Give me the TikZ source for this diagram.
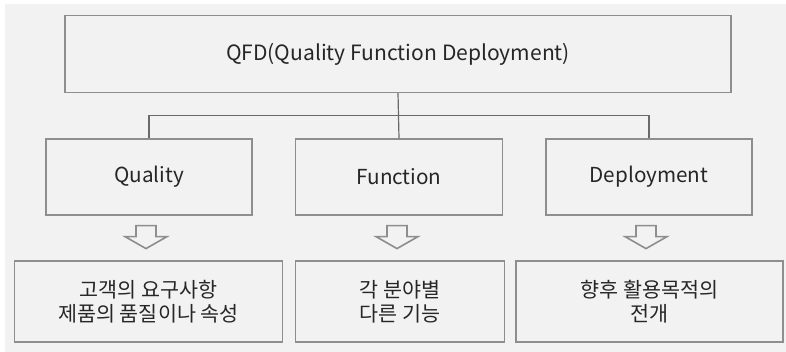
\documentclass[tikz,border=0pt]{standalone}
\usepackage{fontspec}
\setmainfont{Noto Sans CJK KR}
\usepackage{tikz}
\usetikzlibrary{positioning}
\definecolor{bggray}{HTML}{F2F2F2}
\definecolor{boxgray}{HTML}{8E8E8E}
\definecolor{linegray}{HTML}{6A6A6A}
\definecolor{txtgray}{HTML}{262626}
\tikzset{
	box/.style={draw=boxgray, line width=0.9pt, inner sep=0pt, align=center, text=txtgray, font=\fontsize{15.5}{18}\selectfont},
	link/.style={draw=linegray, line width=0.9pt},
	downarrow/.pic={
		\draw[boxgray, line width=1.2pt, line join=miter] (-10,0) -- (10,0) -- (10,11) -- (21,11) -- (0,23) -- (-21,11) -- (-10,11) -- cycle;
	}
}
\begin{document}
\begin{tikzpicture}[x=0.75pt,y=-0.75pt]
					\useasboundingbox (0,0) rectangle (786,352);
					\fill[white] (0,0) rectangle (786,352);
					\fill[bggray] (5,4) rectangle (786,352);
					
					\node[box, font=\fontsize{15.8}{19}\selectfont, minimum width=666*0.75pt, minimum height=77*0.75pt] (qfd) at (398,54) {QFD(Quality Function Deployment)};
					
					\node[box, minimum width=206*0.75pt, minimum height=76*0.75pt] (quality) at (149,177) {Quality};
					\node[box, minimum width=207*0.75pt, minimum height=76*0.75pt] (function) at (399,177) {Function};
					\node[box, minimum width=206*0.75pt, minimum height=76*0.75pt] (deployment) at (649,177) {Deployment};
					
					\node[box, minimum width=268*0.75pt, minimum height=81*0.75pt] (customer) at (148.5,301.5) {고객의 요구사항\\제품의 품질이나 속성};
					\node[box, minimum width=209*0.75pt, minimum height=81*0.75pt] (field) at (400,301.5) {각 분야별\\다른 기능};
					\node[box, minimum width=267*0.75pt, minimum height=81*0.75pt] (purpose) at (649.5,301.5) {향후 활용목적의\\전개};
					
					\draw[link] (qfd.south) -- (function.north);
					\draw[link] (quality.north) -- ++(0,-23) -| (deployment.north);
					
					\pic at ([shift={(-3,10)}]quality.south) {downarrow};
					\pic at ([shift={(-2,10)}]function.south) {downarrow};
					\pic at ([shift={(-3,10)}]deployment.south) {downarrow};
					
				\end{tikzpicture}
\end{document}
